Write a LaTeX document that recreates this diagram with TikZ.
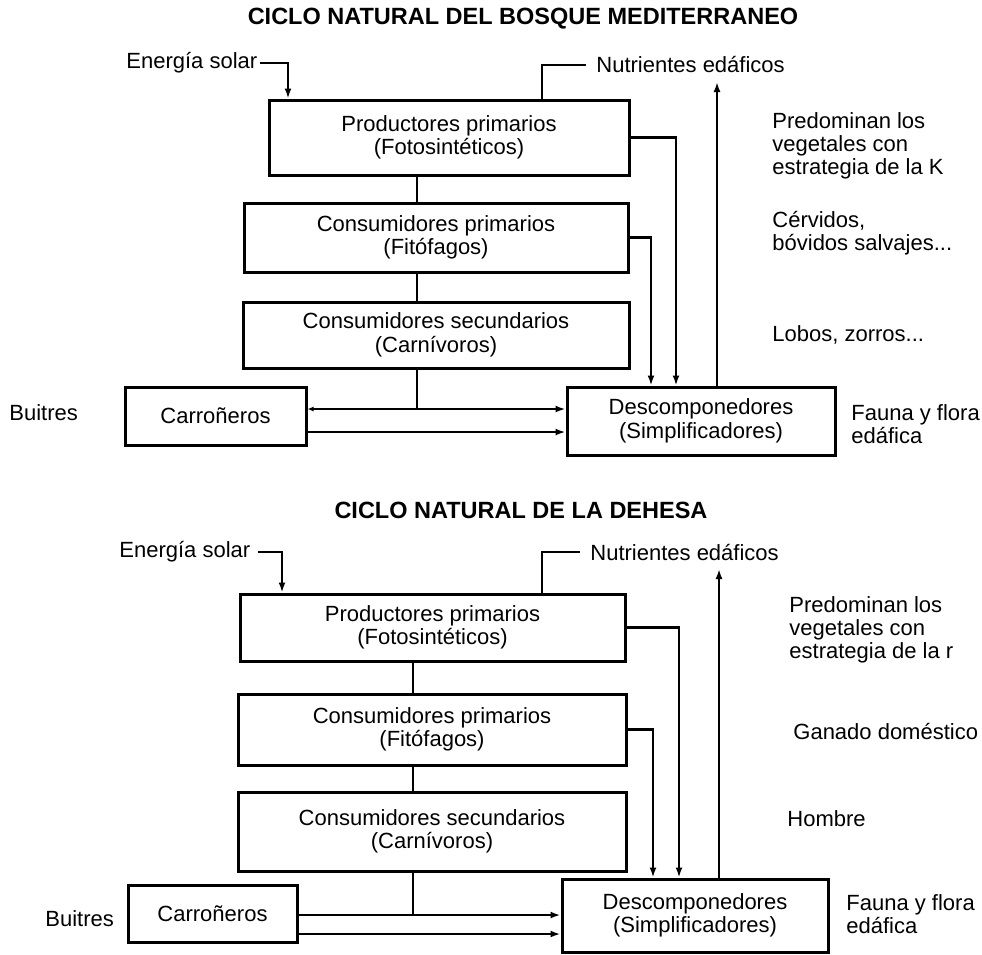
\documentclass[tikz,border=0pt]{standalone}
\usepackage{fontspec}
\setmainfont{Liberation Sans}
\usetikzlibrary{arrows.meta}
\begin{document}
\begin{tikzpicture}[x=1pt,y=-1pt,line width=2.8pt,
    caja/.style={draw,line width=3pt,inner sep=0pt,align=center,font=\fontsize{22}{23.5}\selectfont},
    rotulo/.style={inner sep=1pt,align=left,anchor=west,font=\fontsize{22}{23}\selectfont},
    titulo/.style={inner sep=0pt,font=\fontsize{23.5}{26}\selectfont\bfseries},
    flecha/.style={-{Latex[length=10pt,width=7pt]}}]
  \useasboundingbox (0,0) rectangle (982,954);
  \draw
    (523,19) node[titulo] (tA){CICLO NATURAL DEL BOSQUE MEDITERRANEO}
    (124,63) node[rotulo] (enA){Energía solar}
    (594,65) node[rotulo] (nuA){Nutrientes edáficos}
    (449,137.5) node[caja,minimum width=360pt,minimum height=75pt] (prodA){Productores primarios\\(Fotosintéticos)}
    (436,237.5) node[caja,minimum width=384pt,minimum height=69pt] (conA){Consumidores primarios\\(Fitófagos)}
    (436,335) node[caja,minimum width=386pt,minimum height=66pt] (secA){Consumidores secundarios\\(Carnívoros)}
    (215.5,416) node[caja,minimum width=181pt,minimum height=58pt] (carA){Carroñeros}
    (701,421) node[caja,minimum width=268pt,minimum height=68pt] (desA){Descomponedores\\(Simplificadores)}
    (770,146) node[rotulo] (kA){Predominan los\\vegetales con\\estrategia de la K}
    (770,233.5) node[rotulo] (cerA){Cérvidos,\\bóvidos salvajes...}
    (770,335) node[rotulo] (lobA){Lobos, zorros...}
    (849,424) node[rotulo] (faA){Fauna y flora\\edáfica}
    (7,413) node[rotulo] (buA){Buitres};
  \draw
    (521,510) node[titulo] (tB){CICLO NATURAL DE LA DEHESA}
    (117,552) node[rotulo] (enB){Energía solar}
    (588,552) node[rotulo] (nuB){Nutrientes edáficos}
    (432.5,627.5) node[caja,minimum width=385pt,minimum height=67pt] (prodB){Productores primarios\\(Fotosintéticos)}
    (432,729.5) node[caja,minimum width=388pt,minimum height=71pt] (conB){Consumidores primarios\\(Fitófagos)}
    (432,831.5) node[caja,minimum width=388pt,minimum height=79pt] (secB){Consumidores secundarios\\(Carnívoros)}
    (212.5,913.5) node[caja,minimum width=169pt,minimum height=57pt] (carB){Carroñeros}
    (695,915.5) node[caja,minimum width=266pt,minimum height=73pt] (desB){Descomponedores\\(Simplificadores)}
    (787,630) node[rotulo] (rB){Predominan los\\vegetales con\\estrategia de la r}
    (791,731) node[rotulo] (gaB){Ganado doméstico}
    (785,819) node[rotulo] (hoB){Hombre}
    (844,914.5) node[rotulo] (faB){Fauna y flora\\edáfica}
    (43,919) node[rotulo] (buB){Buitres};
  \coordinate (solA) at (288,0);
  \coordinate (nutA) at (542,0);
  \coordinate (retA) at (717,82);
  \coordinate (pdA) at (676,0);
  \coordinate (cdA) at (651,0);
  \coordinate (ejeA) at (417,0);
  \coordinate (jA) at (417,409);
  \coordinate (lA) at (0,432);
  \coordinate (solB) at (282,0);
  \coordinate (nutB) at (542,0);
  \coordinate (retB) at (719,569);
  \coordinate (pdB) at (679,0);
  \coordinate (cdB) at (653,0);
  \coordinate (ejeB) at (413,0);
  \coordinate (jB) at (413,915);
  \coordinate (lB) at (0,934);
  \begin{scope}[-]
    \draw[flecha] (enA.east) -| (prodA.north -| solA);
    \draw ([xshift=-8pt]nuA.west) -| (prodA.north -| nutA);
    \draw[flecha] (desA.north -| retA) -- (retA);
    \draw[flecha] (prodA.east) -| (desA.north -| pdA);
    \draw[flecha] (conA.east) -| (desA.north -| cdA);
    \draw (prodA.south -| ejeA) -- (conA.north -| ejeA);
    \draw (conA.south -| ejeA) -- (secA.north -| ejeA);
    \draw (secA.south -| ejeA) -- (jA);
    \draw[{Latex[length=6pt,width=5pt]}-{Latex[length=10pt,width=7pt]}] (carA.east |- jA) -- (desA.west |- jA);
    \draw[flecha] (carA.east |- lA) -- (desA.west |- lA);
    \draw[flecha] ([xshift=5pt]enB.east) -| (prodB.north -| solB);
    \draw ([xshift=-8pt]nuB.west) -| (prodB.north -| nutB);
    \draw[flecha] (desB.north -| retB) -- (retB);
    \draw[flecha] (prodB.east) -| (desB.north -| pdB);
    \draw[flecha] (conB.east) -| (desB.north -| cdB);
    \draw (prodB.south -| ejeB) -- (conB.north -| ejeB);
    \draw (conB.south -| ejeB) -- (secB.north -| ejeB);
    \draw (secB.south -| ejeB) -- (jB);
    \draw[flecha] (carB.east |- jB) -- (desB.west |- jB);
    \draw[flecha] (carB.east |- lB) -- (desB.west |- lB);
  \end{scope}
\end{tikzpicture}
\end{document}
